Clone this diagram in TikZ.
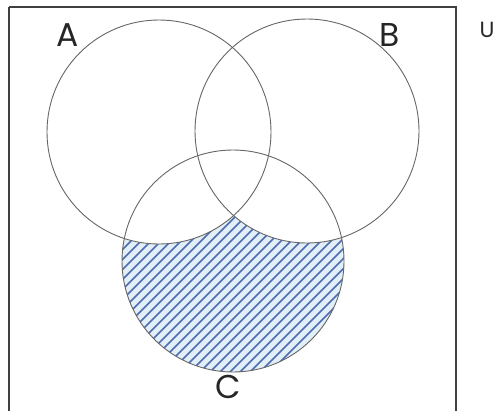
\documentclass[tikz,border=0pt]{standalone}
\usepackage{fontspec}
\setmainfont{Poppins}
\definecolor{hatchblue}{RGB}{78,108,178}
\definecolor{hatchfill}{RGB}{226,238,248}
\begin{document}
\begin{tikzpicture}[x=1pt,y=-1pt,
  setline/.style={draw=black!60, line width=0.9pt},
  frame/.style={draw=black!75, line width=1.4pt},
  hatchline/.style={draw=hatchblue, line width=1.6pt},
  setlabel/.style={inner sep=0pt, font=\fontsize{33}{33}\selectfont, text=black!85},
  ulabel/.style={inner sep=0pt, font=\fontsize{22}{22}\selectfont, text=black!85}]
\useasboundingbox (0,0) rectangle (494,410);
\coordinate (cA) at (159,132);
\coordinate (cB) at (307,131);
\coordinate (cC) at (233,261);
% hatched region C minus (A union B)
\begin{scope}
  \clip (cC) circle (111);
  \fill[hatchfill] (cC) circle (111);
  \foreach \k in {262,272,...,732} {
    \draw[hatchline] (\k-420,420) -- (\k+20,-20);
  }
  \fill[white] (cA) circle (112);
  \fill[white] (cB) circle (112);
\end{scope}
\draw[setline] (cA) circle (112);
\draw[setline] (cB) circle (112);
\draw[setline] (cC) circle (111);
\draw[frame] (9,7) -- (456,7) -- (456,412) (9,412) -- (9,7);
\node[setlabel] (lA) at (67.5,35) {A};
\node[setlabel] (lB) at (389.5,35) {B};
\node[setlabel] (lC) at (228,387) {C};
\node[ulabel] (lU) at (487,30) {U};
\end{tikzpicture}
\end{document}
